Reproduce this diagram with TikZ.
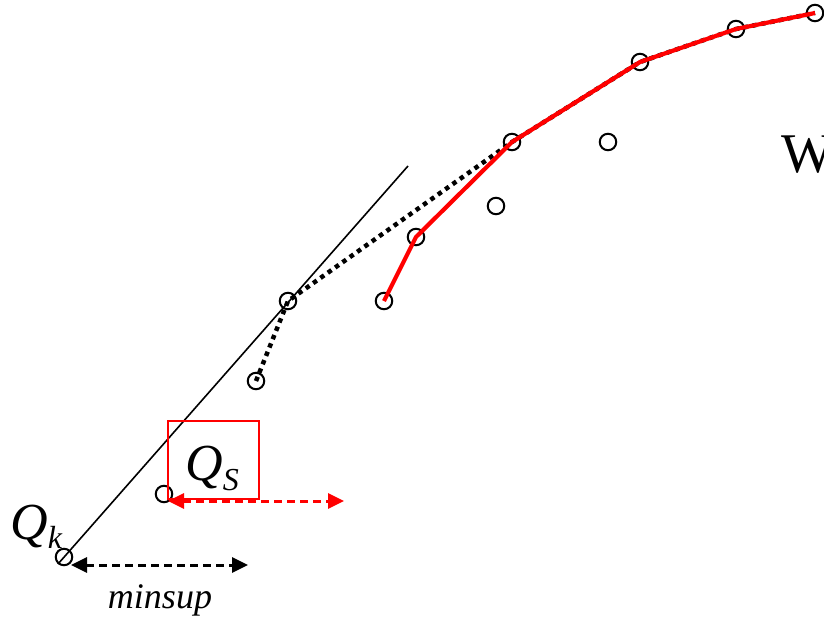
\documentclass[tikz,border=0pt]{standalone}
\usepackage{fontspec}
\setmainfont{Liberation Serif}
\usetikzlibrary{arrows.meta}
\begin{document}
\begin{tikzpicture}[x=1pt,y=-1pt,
  pt/.style={circle,draw=black,line width=2pt,minimum size=16.5pt,inner sep=0pt},
  tangent/.style={black,line width=1.6pt},
  dotline/.style={black,line width=4.5pt,dash pattern=on 4.5pt off 4.5pt},
  redline/.style={red,line width=4.2pt,line join=round},
  redbox/.style={draw=red,line width=2pt},
  dblarrow/.style={line width=3pt,dash pattern=on 8pt off 5pt,{Triangle[length=16pt,width=15pt]}-{Triangle[length=16pt,width=15pt]}},
  bigtxt/.style={inner sep=0pt,font=\fontsize{52}{54}\selectfont\itshape}]
\useasboundingbox (0,0) rectangle (824,621);
% points
\node[pt] (c1) at (64,557) {};
\node[pt] (c2) at (164,494) {};
\node[pt] (c3) at (256,381) {};
\node[pt] (c4) at (288,301) {};
\node[pt] (c5) at (384,301) {};
\node[pt] (c6) at (416,237) {};
\node[pt] (c7) at (496,206) {};
\node[pt] (c8) at (512,142) {};
\node[pt] (c9) at (608,142) {};
\node[pt] (c10) at (640,62) {};
\node[pt] (c11) at (736,29) {};
\node[pt] (c12) at (815,13) {};
% tangent line
\coordinate (t1) at (58,564);
\coordinate (t2) at (408,166);
\draw[tangent] (t1) -- (t2);
% dotted chain
\draw[dotline] (c3.center) -- (c4.center) -- (c8.center) -- (c10.center) -- (c11.center) -- (c12.center);
% red chain
\draw[redline] (c5.center) -- (c6.center) -- (c8.center) -- (c10.center) -- (c11.center) -- (c12.center);
% red box and label
\node[redbox,minimum width=91pt,minimum height=78pt,inner sep=0pt] (box) at (213.5,460) {};
\node[bigtxt,anchor=base west] (qs) at (185,480) {Q\raisebox{-0.2em}{\fontsize{32}{34}\selectfont S}};
\node[bigtxt,anchor=base west] (qk) at (10,539) {Q\raisebox{-0.18em}{\fontsize{32}{34}\selectfont k}};
% arrows
\coordinate (ra1) at (168,501);
\coordinate (ra2) at (344,501);
\draw[dblarrow,red] (ra1) -- (ra2);
\coordinate (ba1) at (71,565);
\coordinate (ba2) at (248,565);
\draw[dblarrow,black] (ba1) -- (ba2);
\node[inner sep=0pt,anchor=base,font=\fontsize{36}{38}\selectfont\itshape] (ms) at (160,608) {minsup};
\node[inner sep=0pt,anchor=base west,font=\fontsize{56}{58}\selectfont] (w) at (781,172) {W};
\end{tikzpicture}
\end{document}
